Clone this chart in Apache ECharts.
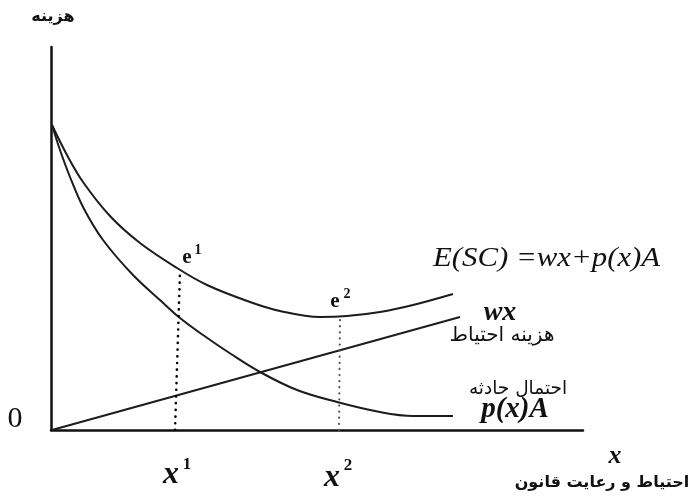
<!DOCTYPE html>
<html><head><meta charset="utf-8">
<script src="https://cdn.jsdelivr.net/npm/echarts@6.0.0/dist/echarts.min.js"></script>
<style>html,body{margin:0;padding:0;background:#fff}#c{width:691px;height:498px}</style>
</head><body><div id="c"></div>
<script>
// Axis extents (data units)
const xMax = 532, yMax = 383;
// E(SC) = wx + p(x)A  (total expected social cost)
const escX = [1, 16, 32, 59, 89, 126, 156, 199, 229, 269, 296, 329, 362, 402];
const escY = [305, 275, 248, 214, 187, 162, 145, 128, 119, 113, 114, 118, 125, 136];
// p(x)A  (expected accident cost)
const pxaX = [1, 9, 19, 32, 52, 82, 109, 129, 152, 180, 209, 246, 286, 329, 362, 402];
const pxaY = [305, 280, 253, 223, 190, 155, 130, 112, 95, 76, 58, 40, 28, 18, 14, 14];
// wx  (cost of care)
const wxX = [1, 409];
const wxY = [0, 113];
// dotted guide lines at x1 and x2
const guide1X = [124, 129], guide1Y = [0, 158];
const guide2X = [288, 289], guide2Y = [0, 114];

const zip = (a, b) => a.map((v, i) => [v, b[i]]);
const curve = { type: 'line', symbol: 'none', smooth: 0.35, lineStyle: { color: '#1c1c1c', width: 2 }, silent: true };

const chart = echarts.init(document.getElementById('c'), null, { renderer: 'canvas' });
const serif = '"Liberation Serif","DejaVu Serif",serif';
const fa = '"DejaVu Sans",sans-serif';
function txt(x, y, text, font, opt) {
  opt = opt || {};
  return { type: 'text', x: x, y: y, silent: true, scaleX: opt.scaleX || 1,
    style: { text: text, font: font, fill: '#111', align: opt.align || 'center', verticalAlign: 'middle' } };
}
chart.setOption({
  animation: false,
  backgroundColor: '#fff',
  grid: { left: 51, right: 108, top: 47, bottom: 68 },
  xAxis: { type: 'value', min: 0, max: xMax,
    axisLine: { show: true, onZero: false, lineStyle: { color: '#111', width: 2.5 } },
    axisTick: { show: false }, axisLabel: { show: false }, splitLine: { show: false } },
  yAxis: { type: 'value', min: 0, max: yMax,
    axisLine: { show: true, onZero: false, lineStyle: { color: '#111', width: 2.5 } },
    axisTick: { show: false }, axisLabel: { show: false }, splitLine: { show: false } },
  series: [
    Object.assign({}, curve, { name: 'E(SC)', data: zip(escX, escY) }),
    Object.assign({}, curve, { name: 'p(x)A', data: zip(pxaX, pxaY) }),
    Object.assign({}, curve, { name: 'wx', smooth: false, data: zip(wxX, wxY) }),
    { type: 'line', symbol: 'none', silent: true, data: zip(guide1X, guide1Y),
      lineStyle: { color: '#000', width: 2.6, type: [0.1, 6.6], cap: 'round' } },
    { type: 'line', symbol: 'none', silent: true, data: zip(guide2X, guide2Y),
      lineStyle: { color: '#555', width: 2.2, type: [0.1, 6], cap: 'round' } }
  ],
  graphic: [
    txt(53, 17, 'هزینه', 'bold 16px ' + fa),
    txt(15, 419, '0', '30px ' + serif),
    txt(171, 475, 'x', 'italic bold 32px ' + serif),
    txt(187, 465, '1', 'bold 17px ' + serif),
    txt(332, 478, 'x', 'italic bold 32px ' + serif),
    txt(348, 466, '2', 'bold 17px ' + serif),
    txt(187, 258, 'e', 'bold 21px ' + serif),
    txt(198, 250, '1', 'bold 14px ' + serif),
    txt(335, 302, 'e', 'bold 21px ' + serif),
    txt(347, 294, '2', 'bold 14px ' + serif),
    txt(433, 259, 'E(SC) =wx+p(x)A', 'italic 28px ' + serif, { align: 'left', scaleX: 1.1 }),
    txt(500, 313, 'wx', 'italic bold 28px ' + serif),
    txt(502, 336, 'هزینه احتیاط', '20px ' + fa),
    txt(518, 389, 'احتمال حادثه', '18.5px ' + fa),
    txt(515, 410, 'p(x)A', 'italic bold 29px ' + serif),
    txt(615, 456, 'x', 'italic bold 26px ' + serif),
    txt(602, 483, 'احتیاط و رعایت قانون', 'bold 16px ' + fa)
  ]
});
</script>
</body></html>
